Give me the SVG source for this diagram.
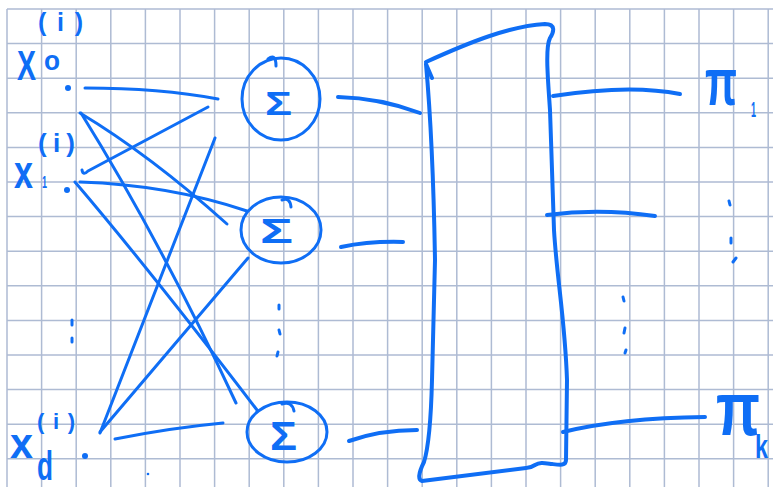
<svg xmlns="http://www.w3.org/2000/svg" width="773" height="487" viewBox="0 0 773 487">
<defs>
<style>
.g{stroke:#aebbd3;stroke-width:1.5;fill:none}
.ink{stroke:#0f6ef5;fill:none;stroke-linecap:round;stroke-linejoin:round}
.c{stroke-width:3}
.o{stroke-width:4}
.t{fill:#0f6ef5;font-family:"Liberation Sans",Arial,sans-serif;font-weight:bold}
.d{fill:#0f6ef5}
</style>
</defs>
<rect width="773" height="487" fill="#ffffff"/>
<g id="grid" class="g">
<path d="M7,9V487M41.6,9V487M76.2,9V487M110.8,9V487M145.4,9V487M180,9V487M214.6,9V487M249.2,9V487M283.8,9V487M318.4,9V487M353,9V487M387.6,9V487M422.2,9V487M456.8,9V487M491.4,9V487M526,9V487M560.6,9V487M595.2,9V487M629.8,9V487M664.4,9V487M699,9V487M733.6,9V487M768.2,9V487"/>
<path d="M7,9H773M7,43.6H773M7,78.2H773M7,112.8H773M7,147.4H773M7,182H773M7,216.6H773M7,251.2H773M7,285.8H773M7,320.4H773M7,355H773M7,389.6H773M7,424.2H773M7,458.8H773"/>
</g>
<g id="connectors" class="ink c">
<path d="M85,88 Q160,88 218,99"/>
<path d="M80,113 Q150,155 227,224"/>
<path d="M81,113 Q160,240 236,403"/>
<path d="M82,170 Q83,176 88,171 L208,107"/>
<path d="M80,182 Q170,185 247,211"/>
<path d="M75,182 Q150,270 257,410"/>
<path d="M215,138 L100,433"/>
<path d="M100,432 L248,258"/>
<path d="M115,439 Q170,428 223,423"/>
<path class="o" d="M338,97 Q380,98 420,113"/>
<path class="o" d="M341,247 Q370,241 403,242"/>
<path class="o" d="M349,441 Q380,430 417,430"/>
<path class="o" d="M553,96 Q630,84 680,94"/>
<path class="o" d="M547,215 Q600,208 655,216"/>
<path class="o" d="M563,432 Q620,418 705,417"/>
</g>
<g id="x0">
<text class="t" x="38" y="31" font-size="25" textLength="45" lengthAdjust="spacing">(i)</text>
<text class="t" x="17" y="80" font-size="42" textLength="19" lengthAdjust="spacingAndGlyphs">X</text>
<text class="t" x="44" y="70" font-size="28" textLength="16" lengthAdjust="spacingAndGlyphs">o</text>
<circle class="d" cx="68" cy="88" r="3"/>
</g>
<g id="x1">
<text class="t" x="38" y="152" font-size="26" textLength="37" lengthAdjust="spacing">(i)</text>
<text class="t" x="14" y="188" font-size="46" textLength="19" lengthAdjust="spacingAndGlyphs">x</text>
<text class="t" x="42" y="188" font-size="17" textLength="5" lengthAdjust="spacingAndGlyphs">1</text>
<circle class="d" cx="67" cy="190" r="3"/>
</g>
<g id="xdots" class="ink c">
<path d="M72,320 L72,325M72,338 L72,342"/>
</g>
<g id="xd">
<text class="t" x="37" y="429" font-size="22" textLength="38" lengthAdjust="spacing">(i)</text>
<text class="t" x="10" y="458" font-size="42" textLength="23" lengthAdjust="spacingAndGlyphs">x</text>
<text class="t" x="37" y="480" font-size="40" textLength="16" lengthAdjust="spacingAndGlyphs">d</text>
<circle class="d" cx="85" cy="456" r="3"/>
<circle class="d" cx="148" cy="474" r="1.3"/>
</g>
<g id="sum1">
<ellipse class="ink c" cx="281" cy="99" rx="39" ry="41"/>
<path class="ink c" d="M268,59 Q276,53 276,66"/>
<text class="t" x="265" y="115" font-size="34" textLength="27" lengthAdjust="spacingAndGlyphs">Σ</text>
</g>
<g id="sum2">
<ellipse class="ink c" cx="281" cy="230" rx="40" ry="33"/>
<path class="ink c" d="M282,200 Q290,197 291,207"/>
<text class="t" x="260" y="243" font-size="35" textLength="33" lengthAdjust="spacingAndGlyphs">Σ</text>
</g>
<g id="sumdots" class="ink c">
<path d="M279,305 L279,309M279,330 L280,334M278,352 L277,356"/>
</g>
<g id="sumk">
<ellipse class="ink c" cx="287" cy="432" rx="40" ry="30"/>
<path class="ink c" d="M282,404 Q292,401 294,411"/>
<text class="t" x="270" y="450" font-size="41" textLength="27" lengthAdjust="spacingAndGlyphs">Σ</text>
</g>
<g id="layer" class="ink o">
<path d="M432,78 L426,64 M426,62 C470,42 510,26 545,24 C556,24 554,32 550,38 C545,48 548,80 550,110 C552,160 553,200 554,230 C557,280 565,320 567,380 L566,460 C566,466 560,465 552,464 C544,463 540,462 535,465 C532,467 530,468 526,468 L422,481 C418,480 418,474 424,462 C429,446 431,420 432,380 L435,260 C434,200 431,120 426,64"/>
</g>
<g id="middots" class="ink c">
<path d="M623,297 L624,301M625,328 L624,333M626,350 L625,353"/>
</g>
<g id="pi1">
<text class="t" transform="translate(705,105) scale(1,1.43)" x="0" y="0" font-size="46" textLength="32" lengthAdjust="spacingAndGlyphs">π</text>
<text class="t" x="751" y="117" font-size="22" textLength="5" lengthAdjust="spacingAndGlyphs">1</text>
</g>
<g id="pidots" class="ink c">
<path d="M729,201 L730,205M731,238 L731,243M736,258 L733,262"/>
</g>
<g id="pik">
<text class="t" transform="translate(716,435) scale(1,1.46)" x="0" y="0" font-size="52" textLength="44" lengthAdjust="spacingAndGlyphs">π</text>
<text class="t" x="755" y="458" font-size="34" textLength="13" lengthAdjust="spacingAndGlyphs">k</text>
</g>
</svg>
